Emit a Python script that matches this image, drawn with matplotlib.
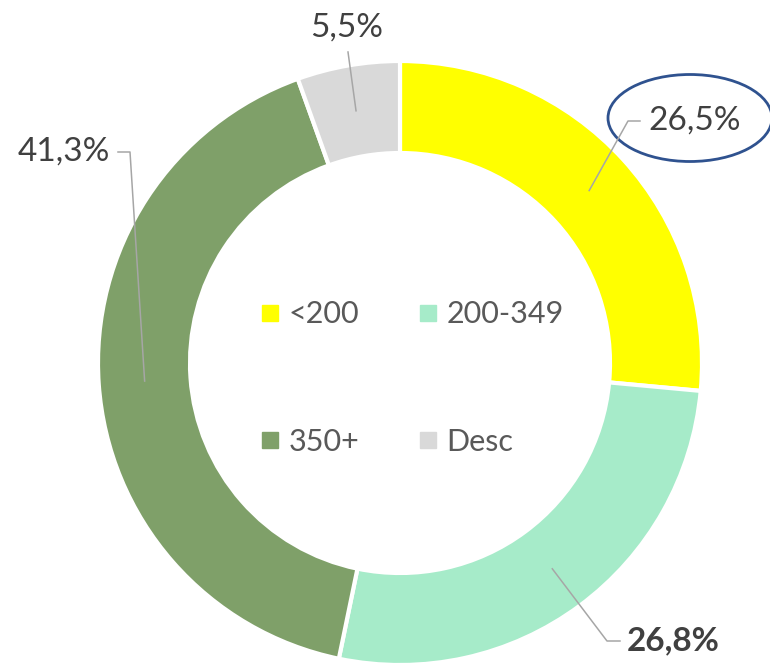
import numpy as np
import matplotlib
matplotlib.use("Agg")
import matplotlib.pyplot as plt
from matplotlib.lines import Line2D
from matplotlib.patches import Ellipse

categories = ["<200", "200-349", "350+", "Desc"]
shares = [26.5, 26.8, 41.3, 5.5]
share_labels = ["26,5%", "26,8%", "41,3%", "5,5%"]
colors = ["#FFFF00", "#A6EBC9", "#7FA069", "#D9D9D9"]

W, H = 770, 666
plt.rcParams["font.family"] = ["Lato", "DejaVu Sans"]

fig = plt.figure(figsize=(W / 100, H / 100), dpi=100)
ax = fig.add_axes([0, 0, 1, 1])

cx, cy = 400, H - 363
r_out, r_in = 302, 210
wedges, _ = ax.pie(shares, colors=colors, startangle=90, counterclock=False,
                   radius=r_out, center=(cx, cy), frame=True,
                   wedgeprops=dict(width=r_out - r_in, edgecolor="white", linewidth=3))
ax.set_xlim(0, W)
ax.set_ylim(0, H)
ax.set_aspect("equal")
ax.axis("off")

# label layout: (elbow x, elbow y, end x, text x, ha) in top-origin pixels
layout = [
    (628, 121, 640, 648, "left"),
    (607, 641, 620, 627, "left"),
    (130, 152, 118, 110, "right"),
    (348, 52, 348, 347, "center"),
]
text_c = "#404040"
line_c = "#A6A6A6"
for i, w in enumerate(wedges):
    mid = np.radians((w.theta1 + w.theta2) / 2)
    rm = (r_out + r_in) / 2
    ax_ = cx + rm * np.cos(mid)
    ay_ = cy + rm * np.sin(mid)
    ex, ey, endx, tx, ha = layout[i]
    if i == 3:
        ax.plot([ax_, ex], [ay_, H - ey], color=line_c, lw=1.1)
        ax.text(tx, H - 28, share_labels[i], ha="center", va="center",
                fontsize=24, color=text_c)
    else:
        ax.plot([ax_, ex, endx], [ay_, H - ey, H - ey], color=line_c, lw=1.1)
        ax.text(tx, H - ey, share_labels[i], ha=ha, va="center", fontsize=24,
                color=text_c, fontweight="bold" if i == 1 else "normal")

ax.add_patch(Ellipse((690, H - 118), 164, 87, fill=False,
                     edgecolor="#2F528F", lw=2, clip_on=False))

handles = [Line2D([], [], marker="s", linestyle="none", markersize=11,
                  color=c) for c in colors]
order = [0, 2, 1, 3]
leg = ax.legend([handles[k] for k in order], [categories[k] for k in order],
                ncol=2, loc="center", bbox_to_anchor=(413, H - 378),
                bbox_transform=ax.transData, frameon=False, fontsize=22,
                labelspacing=3.25, columnspacing=2.0, handlelength=0.5,
                handletextpad=0.35, labelcolor="#595959")

fig.savefig("out.png", dpi=100, facecolor="white")
